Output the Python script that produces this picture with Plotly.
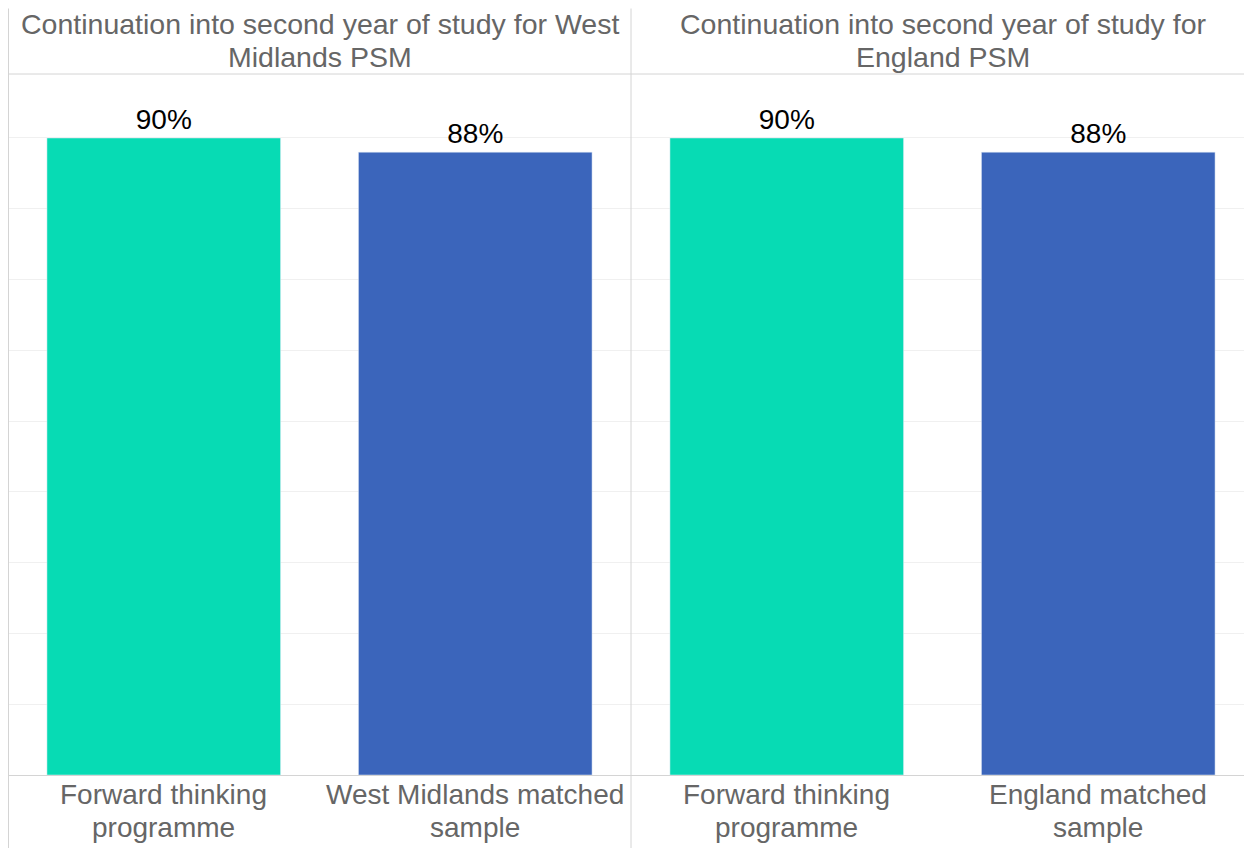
import plotly.graph_objects as go

panel_title_lines = [
    ["Continuation into second year of study for West", "Midlands PSM"],
    ["Continuation into second year of study for", "England PSM"],
]
categories_wm = ["Forward thinking programme", "West Midlands matched sample"]
categories_en = ["Forward thinking programme", "England matched sample"]
label_lines_wm = [["Forward thinking", "programme"], ["West Midlands matched", "sample"]]
label_lines_en = [["Forward thinking", "programme"], ["England matched", "sample"]]
values_wm = [0.90, 0.88]
values_en = [0.90, 0.88]
bar_colors = ["#07DBB4", "#3B65BB"]

# page body has an 8px offset; all pixel positions below are in figure coords
W, H = 1252, 848
ML, MR, MT, MB = 0, 6, 67, 81
plot_w = W - ML - MR
plot_h = H - MT - MB
split = 623 / plot_w

FONT = "Liberation Sans, Arial, sans-serif"
GREY = "#666666"
FS = 28

fig = go.Figure()
for cats, vals, xa, ya in [(categories_wm, values_wm, "x", "y"), (categories_en, values_en, "x2", "y2")]:
    fig.add_trace(go.Bar(x=cats, y=vals, marker_color=bar_colors,
                         width=0.75, texttemplate="%{y:.0%}", textposition="outside",
                         textfont=dict(size=FS, color="#000000", family=FONT),
                         cliponaxis=False, xaxis=xa, yaxis=ya, showlegend=False))

yax = dict(range=[0, 0.989], dtick=0.1, showticklabels=False, showgrid=True,
           gridcolor="#f0f0f0", gridwidth=1, zeroline=False, showline=False, fixedrange=True)
xax = dict(showline=True, linecolor="#d4d4d4", linewidth=1, ticks="",
           showticklabels=False, showgrid=False)

fig.update_layout(
    width=W, height=H,
    margin=dict(l=ML, r=MR, t=MT, b=MB, pad=0),
    paper_bgcolor="white", plot_bgcolor="white",
    bargap=0.25,
    xaxis=dict(domain=[0, split], anchor="y", **xax),
    xaxis2=dict(domain=[split, 1], anchor="y2", **xax),
    yaxis=dict(anchor="x", **yax),
    yaxis2=dict(anchor="x2", matches="y", **yax),
    font=dict(family=FONT),
)

def py(pix):
    return (H - MB - pix) / plot_h

def px(pix):
    return (pix - ML) / plot_w

# category labels under each bar (two lines each), positioned on the category axes
for cats, lines_list, xa in [(categories_wm, label_lines_wm, "x"), (categories_en, label_lines_en, "x2")]:
    for cat, lines in zip(cats, lines_list):
        for j, t in enumerate(lines):
            fig.add_annotation(text=t, xref=xa, yref="paper", x=cat, y=py(787 + 32 * j),
                               showarrow=False, xanchor="center", yanchor="middle",
                               font=dict(size=FS, color=GREY, family=FONT))

# panel titles (two lines each)
for i, lines in enumerate(panel_title_lines):
    x0, x1 = (0, split) if i == 0 else (split, 1)
    for j, t in enumerate(lines):
        fig.add_annotation(text=t, xref="paper", yref="paper", x=(x0 + x1) / 2, y=py(16 + 33 * j),
                           showarrow=False, xanchor="center", yanchor="middle",
                           font=dict(size=28.5, color=GREY, family=FONT))

line = dict(color="#d4d4d4", width=1)
# header separator
fig.add_shape(type="line", xref="paper", yref="paper", x0=px(0), x1=1.01, y0=py(66), y1=py(66), line=line)
# vertical borders
for xp in [px(0.5), split]:
    fig.add_shape(type="line", xref="paper", yref="paper", x0=xp, x1=xp, y0=py(0.5), y1=py(H + 2), line=line)

fig.write_html("out.html")
